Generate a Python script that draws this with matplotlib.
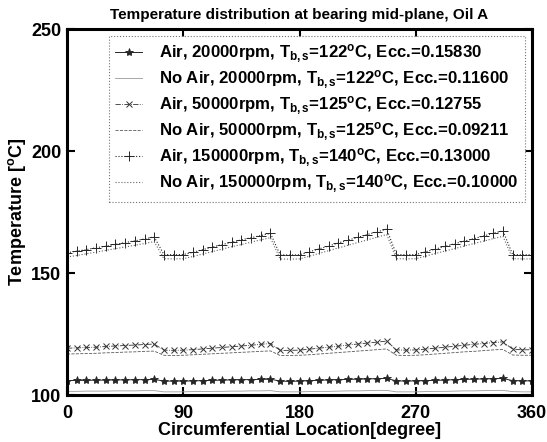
import numpy as np
import matplotlib
matplotlib.use("Agg")
import matplotlib.pyplot as plt

plt.rcParams["font.family"] = ["Liberation Sans", "DejaVu Sans"]
plt.rcParams["font.weight"] = "bold"
plt.rcParams["mathtext.fontset"] = "custom"
plt.rcParams["mathtext.rm"] = "Liberation Sans:bold"
plt.rcParams["mathtext.it"] = "Liberation Sans:bold"
plt.rcParams["mathtext.bf"] = "Liberation Sans:bold"
plt.rcParams["mathtext.default"] = "rm"

# circumferential location, every 7.5 degrees
angle = np.arange(0, 360.1, 7.5)

# temperatures [C]
air_20k = [105.9, 106.0, 106.0, 106.1, 106.1, 106.2, 106.2, 106.3, 106.3, 106.4,
           105.7, 105.7, 105.7,
           105.8, 105.9, 106.0, 106.1, 106.2, 106.3, 106.3, 106.4, 106.5,
           105.7, 105.6, 105.7,
           105.9, 106.0, 106.2, 106.3, 106.4, 106.5, 106.6, 106.7, 106.8,
           105.8, 105.7, 105.8,
           105.9, 106.0, 106.1, 106.3, 106.4, 106.5, 106.6, 106.7, 106.8,
           105.9, 105.8, 105.8]
noair_20k = [101.5, 101.5, 101.6, 101.6, 101.6, 101.7, 101.7, 101.7, 101.8, 101.8,
             101.3, 101.3, 101.3,
             101.4, 101.4, 101.5, 101.5, 101.6, 101.6, 101.7, 101.7, 101.8,
             101.3, 101.3, 101.3,
             101.4, 101.5, 101.5, 101.6, 101.7, 101.7, 101.8, 101.9, 101.9,
             101.3, 101.3, 101.3,
             101.4, 101.5, 101.5, 101.6, 101.7, 101.7, 101.8, 101.9, 101.9,
             101.4, 101.3, 101.3]
air_50k = [119.2, 119.3, 119.5, 119.6, 119.9, 120.1, 120.3, 120.5, 120.7, 120.9,
           118.4, 118.3, 118.4,
           118.6, 118.9, 119.2, 119.5, 119.8, 120.1, 120.4, 120.8, 121.1,
           118.3, 118.3, 118.4,
           118.8, 119.2, 119.6, 120.0, 120.5, 120.9, 121.3, 121.7, 122.1,
           118.5, 118.4, 118.5,
           118.8, 119.2, 119.6, 120.0, 120.4, 120.8, 121.1, 121.5, 121.8,
           118.8, 118.5, 118.6]
noair_50k = [116.8, 116.9, 117.0, 117.1, 117.3, 117.4, 117.6, 117.7, 117.9, 118.0,
             116.3, 116.2, 116.3,
             116.5, 116.7, 116.9, 117.1, 117.3, 117.5, 117.7, 117.9, 118.1,
             116.2, 116.2, 116.3,
             116.5, 116.8, 117.1, 117.4, 117.7, 118.0, 118.3, 118.6, 118.9,
             116.3, 116.2, 116.3,
             116.5, 116.8, 117.1, 117.4, 117.7, 117.9, 118.2, 118.5, 118.7,
             116.4, 116.3, 116.3]
air_150k = [158.3, 159.0, 159.6, 160.4, 161.0, 161.8, 162.5, 163.2, 164.0, 164.8,
            157.6, 157.5, 157.6,
            158.5, 159.6, 160.6, 161.7, 162.6, 163.6, 164.5, 165.4, 166.3,
            157.5, 157.4, 157.5,
            158.7, 159.9, 161.1, 162.3, 163.5, 164.6, 165.8, 166.9, 168.0,
            157.6, 157.5, 157.6,
            158.7, 159.8, 160.9, 162.0, 163.1, 164.1, 165.2, 166.3, 167.3,
            157.6, 157.5, 157.5]
noair_150k = [156.6, 157.2, 157.9, 158.6, 159.3, 160.0, 160.7, 161.4, 162.1, 162.9,
              155.9, 155.8, 155.9,
              156.8, 157.8, 158.8, 159.8, 160.8, 161.7, 162.7, 163.6, 164.5,
              155.8, 155.7, 155.8,
              156.9, 158.0, 159.2, 160.3, 161.4, 162.5, 163.6, 164.7, 165.8,
              155.9, 155.8, 155.9,
              156.9, 158.0, 159.0, 160.0, 161.1, 162.1, 163.1, 164.1, 165.1,
              155.9, 155.8, 155.8]

labels = [
    r"Air, 20000rpm, T$_{b,s}$=122$^{o}$C, Ecc.=0.15830",
    r"No Air, 20000rpm, T$_{b,s}$=122$^{o}$C, Ecc.=0.11600",
    r"Air, 50000rpm, T$_{b,s}$=125$^{o}$C, Ecc.=0.12755",
    r"No Air, 50000rpm, T$_{b,s}$=125$^{o}$C, Ecc.=0.09211",
    r"Air, 150000rpm, T$_{b,s}$=140$^{o}$C, Ecc.=0.13000",
    r"No Air, 150000rpm, T$_{b,s}$=140$^{o}$C, Ecc.=0.10000",
]

fig = plt.figure(figsize=(5.47, 4.42), dpi=100)
ax = fig.add_axes([0.1225, 0.1063, 0.8501, 0.8277])

ax.plot(angle, air_20k, color="0.15", lw=0.7, ls="-", marker="*", ms=6, mew=0.6, label=labels[0])
ax.plot(angle, noair_20k, color="0.6", lw=0.6, ls="-", label=labels[1])
ax.plot(angle, air_50k, color="0.2", lw=0.6, ls="-.", marker="x", ms=5, mew=0.7, label=labels[2])
ax.plot(angle, noair_50k, color="0.35", lw=0.6, ls="--", label=labels[3])
ax.plot(angle, air_150k, color="0.15", lw=0.8, ls=":", marker="+", ms=7, mew=0.7, label=labels[4])
ax.plot(angle, noair_150k, color="0.4", lw=0.8, ls=":", label=labels[5])

ax.set_xlim(0, 360)
ax.set_ylim(100, 250)
ax.set_xticks([0, 90, 180, 270, 360])
ax.set_yticks([100, 150, 200, 250])
ax.tick_params(direction="in", length=6, width=1.5, top=True, right=True, labelsize=13)
ax.tick_params(axis="x", pad=7)
ax.tick_params(axis="y", pad=4)
for s in ax.spines.values():
    s.set_linewidth(2.2)

ax.set_title("Temperature distribution at bearing mid-plane, Oil A",
             fontsize=11, fontweight="bold", pad=7)
ax.set_xlabel("Circumferential Location[degree]", fontsize=13, fontweight="bold", labelpad=0)
ax.set_ylabel(r"Temperature [$^{o}$C]", fontsize=13, fontweight="bold", labelpad=2)

leg = ax.legend(loc="upper right", bbox_to_anchor=(0.985, 0.982), fontsize=12.1,
                numpoints=1, handlelength=1.6, handletextpad=1.0, labelspacing=0.2,
                borderpad=0.4, borderaxespad=0, fancybox=False, framealpha=1)
frame = leg.get_frame()
frame.set_edgecolor("0.45")
frame.set_linewidth(0.8)
frame.set_linestyle(":")

fig.savefig("out.png", dpi=100)
